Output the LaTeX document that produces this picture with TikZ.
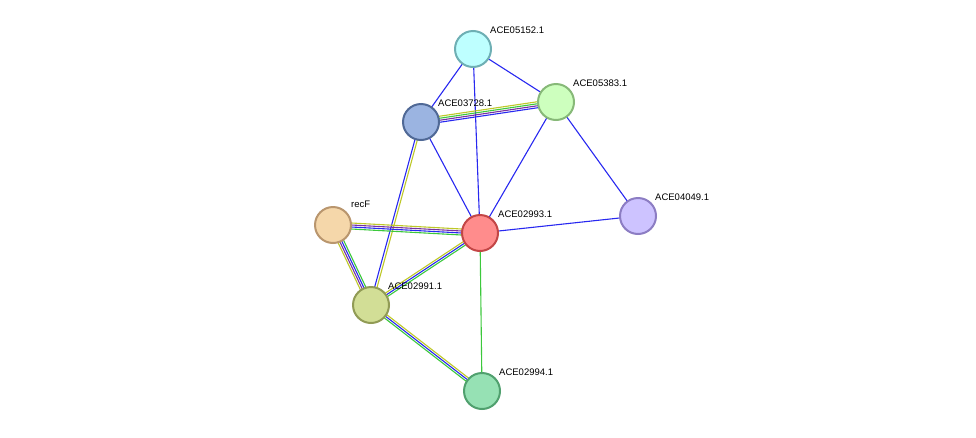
\documentclass[tikz,border=0pt]{standalone}
\usepackage{fontspec}
\setmainfont{Liberation Sans}
\usetikzlibrary{calc,backgrounds}
\newcommand{\pe}[4]{\draw[#4] ($(#1)!#3!90:(#2)$) -- ($(#2)!#3!-90:(#1)$);}
\begin{document}
\begin{tikzpicture}[x=1pt,y=-1pt,
  prot/.style={circle,minimum size=36pt,inner sep=0pt,line width=2pt},
  lab/.style={font=\fontsize{9.5}{11}\selectfont,anchor=south west,inner sep=0pt},
  e/.style={line width=1.1pt},
  eb/.style={e,draw={rgb,255:red,40;green,40;blue,240}},
  eg/.style={e,draw={rgb,255:red,60;green,200;blue,60}},
  ep/.style={e,draw={rgb,255:red,120;green,50;blue,160}},
  ey/.style={e,draw={rgb,255:red,190;green,200;blue,40}}]
\useasboundingbox (0,0) rectangle (976,437);
\node[prot,fill={rgb,255:red,190;green,255;blue,255},draw={rgb,255:red,110;green,175;blue,180}] (n1) at (473,49) {};
\node[prot,fill={rgb,255:red,205;green,255;blue,190},draw={rgb,255:red,135;green,185;blue,120}] (n2) at (556,102) {};
\node[prot,fill={rgb,255:red,155;green,180;blue,225},draw={rgb,255:red,80;green,105;blue,150}] (n3) at (421,122) {};
\node[prot,fill={rgb,255:red,245;green,215;blue,170},draw={rgb,255:red,185;green,150;blue,110}] (n4) at (333,225) {};
\node[prot,fill={rgb,255:red,255;green,140;blue,140},draw={rgb,255:red,195;green,70;blue,70}] (n5) at (480,233) {};
\node[prot,fill={rgb,255:red,205;green,195;blue,255},draw={rgb,255:red,140;green,125;blue,195}] (n6) at (638,216) {};
\node[prot,fill={rgb,255:red,210;green,222;blue,150},draw={rgb,255:red,145;green,155;blue,85}] (n7) at (371,305) {};
\node[prot,fill={rgb,255:red,150;green,225;blue,180},draw={rgb,255:red,80;green,160;blue,110}] (n8) at (482,391) {};
\node[lab] (l1) at (490,34) {ACE05152.1};
\node[lab] (l2) at (573,87) {ACE05383.1};
\node[lab] (l3) at (438,107) {ACE03728.1};
\node[lab] (l4) at (351,208) {recF};
\node[lab] (l5) at (498,218) {ACE02993.1};
\node[lab] (l6) at (655,201) {ACE04049.1};
\node[lab] (l7) at (388,290) {ACE02991.1};
\node[lab] (l8) at (499,376) {ACE02994.1};
\begin{scope}[on background layer]
\pe{n1}{n3}{0pt}{eb}
\pe{n1}{n2}{0pt}{eb}
\pe{n1}{n5}{0pt}{eb}
\pe{n3}{n2}{-3pt}{eb}
\pe{n3}{n2}{-1pt}{ep}
\pe{n3}{n2}{1pt}{eg}
\pe{n3}{n2}{3pt}{ey}
\pe{n3}{n5}{0pt}{eb}
\pe{n2}{n5}{0pt}{eb}
\pe{n2}{n6}{0pt}{eb}
\pe{n3}{n7}{-1.2pt}{eb}
\pe{n3}{n7}{1.2pt}{ey}
\pe{n4}{n5}{-3pt}{eg}
\pe{n4}{n5}{-1pt}{eb}
\pe{n4}{n5}{1pt}{ep}
\pe{n4}{n5}{3pt}{ey}
\pe{n4}{n7}{3pt}{eg}
\pe{n4}{n7}{1pt}{eb}
\pe{n4}{n7}{-1pt}{ep}
\pe{n4}{n7}{-3pt}{ey}
\pe{n5}{n7}{2pt}{eg}
\pe{n5}{n7}{0pt}{eb}
\pe{n5}{n7}{-2pt}{ey}
\pe{n5}{n6}{0pt}{eb}
\pe{n5}{n8}{0pt}{eg}
\pe{n7}{n8}{-2pt}{eg}
\pe{n7}{n8}{0pt}{eb}
\pe{n7}{n8}{2pt}{ey}
\end{scope}
\end{tikzpicture}
\end{document}
